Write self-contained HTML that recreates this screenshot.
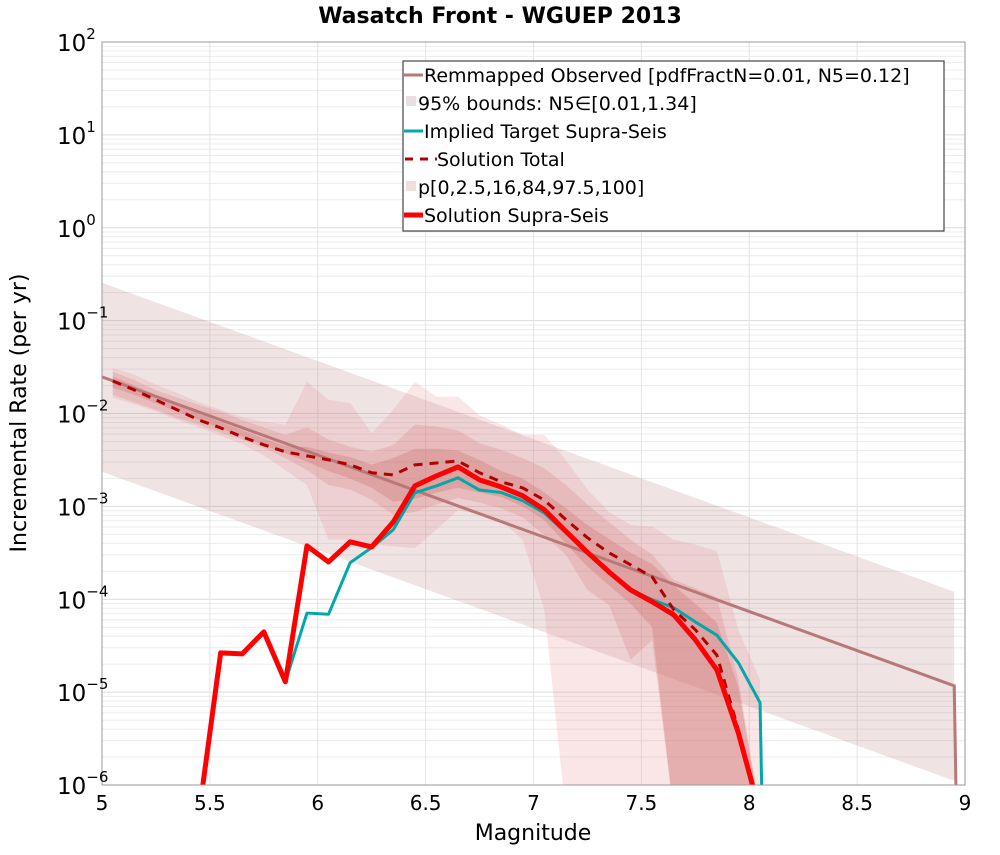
<!DOCTYPE html>
<html><head><meta charset="utf-8"><style>
body{margin:0;background:#fff;width:1000px;height:850px;overflow:hidden}
svg text{font-family:"DejaVu Sans","Liberation Sans",sans-serif}
</style></head><body>
<svg id="chart" width="1000" height="850" xmlns="http://www.w3.org/2000/svg">
<text x="500" y="23" text-anchor="middle" font-size="22" font-weight="bold">Wasatch Front - WGUEP 2013</text>
<g id="grid"></g>
<g id="marks"></g>
<rect x="102" y="42" width="863" height="743" fill="none" stroke="#999" stroke-width="1"/>
<g id="axes"></g>
<text x="533" y="840" text-anchor="middle" font-size="22">Magnitude</text>
<text transform="translate(26,413) rotate(-90)" text-anchor="middle" font-size="22">Incremental Rate (per yr)</text>
<g>
<rect x="403" y="61" width="541" height="170" fill="#fff" stroke="#444" stroke-width="1.2"/>
<g><line x1="404" y1="75" x2="423" y2="75" stroke="#b87878" stroke-width="3"/><text x="424" y="82" font-size="19">Remmapped Observed [pdfFractN=0.01, N5=0.12]</text></g>
<g><rect x="406" y="96" width="10" height="10" fill="#eadfe0"/><text x="418" y="110" font-size="19">95% bounds: N5∈[0.01,1.34]</text></g>
<g><line x1="404" y1="131" x2="423" y2="131" stroke="#00aaaa" stroke-width="3"/><text x="424" y="138" font-size="19">Implied Target Supra-Seis</text></g>
<g><line x1="405" y1="159" x2="437" y2="159" stroke="#b00000" stroke-width="3" stroke-dasharray="8,7"/><text x="437" y="166" font-size="19">Solution Total</text></g>
<g><rect x="406" y="181" width="10" height="10" fill="#f2dcdc"/><text x="418" y="194" font-size="19">p[0,2.5,16,84,97.5,100]</text></g>
<g><line x1="404" y1="215" x2="423" y2="215" stroke="#ff0000" stroke-width="5"/><text x="424" y="222" font-size="19">Solution Supra-Seis</text></g>
</g>
</svg>
<script>
// magnitude bins
const mags = [5.05,5.15,5.25,5.35,5.45,5.55,5.65,5.75,5.85,5.95,6.05,6.15,6.25,6.35,6.45,6.55,6.65,6.75,6.85,6.95,7.05,7.15,7.25,7.35,7.45,7.55,7.65,7.75,7.85,7.95,8.05];
// observed GR line endpoints (magnitude, rate)
const obsMags = [5.0, 8.95];
const obsRates = [0.0248, 1.17e-5];
// 95% bounds multipliers (lower, upper)
const boundFactors = [0.095, 10.3];
// Solution supra-seis rates
const solRates = [1e-8,1e-8,1e-8,1e-8,1e-8,2.65e-5,2.58e-5,4.46e-5,1.29e-5,3.76e-4,2.52e-4,4.15e-4,3.66e-4,6.8e-4,1.66e-3,2.13e-3,2.66e-3,1.93e-3,1.62e-3,1.30e-3,9.2e-4,5.4e-4,3.2e-4,1.97e-4,1.26e-4,9.4e-5,6.8e-5,3.66e-5,1.74e-5,3.6e-6,1e-8];
// Implied target supra-seis rates (null = not drawn)
const targetRates = [null,null,null,null,null,null,null,null,1.29e-5,7.1e-5,6.9e-5,2.47e-4,3.6e-4,5.6e-4,1.40e-3,1.66e-3,2.03e-3,1.5e-3,1.41e-3,1.15e-3,8.5e-4,5.2e-4,3.1e-4,1.95e-4,1.26e-4,9.9e-5,8.1e-5,5.7e-5,4.1e-5,2.07e-5,7.7e-6];
// Solution total rates
const totalRates = [2.24e-2,1.79e-2,1.40e-2,1.09e-2,8.5e-3,7.0e-3,5.6e-3,4.6e-3,3.86e-3,3.5e-3,3.17e-3,2.8e-3,2.3e-3,2.18e-3,2.8e-3,2.93e-3,3.09e-3,2.3e-3,1.84e-3,1.58e-3,1.17e-3,7.2e-4,4.6e-4,3.16e-4,2.35e-4,1.74e-4,7.7e-5,4.7e-5,2.5e-5,3.9e-6,1e-8];
// percentile bands (log10 rate)
const p100Log = [-1.51,-1.58,-1.69,-1.78,-1.88,-1.96,-2.04,-2.09,-2.12,-1.66,-1.85,-1.89,-2.21,-1.96,-1.66,-1.82,-1.82,-2.02,-2.12,-2.23,-2.23,-2.50,-2.82,-3.06,-3.20,-3.22,-3.36,-3.41,-3.48,-4.33,-4.87];
const p0Log = [-1.83,-1.90,-1.98,-2.07,-2.15,-2.24,-2.33,-2.45,-2.61,-2.77,-3.36,-3.36,-3.41,-3.43,-3.45,-3.25,-3.04,-3.09,-3.15,-3.36,-4.11,-8,-8,-8,-8,-8,-8,-8,-8,-8,-8];
const p975Log = [-1.55,-1.64,-1.75,-1.83,-1.91,-1.98,-2.07,-2.15,-2.23,-2.15,-2.28,-2.36,-2.41,-2.34,-2.12,-2.14,-2.18,-2.32,-2.39,-2.48,-2.59,-2.77,-2.98,-3.17,-3.36,-3.52,-3.79,-3.88,-3.98,-4.87,-8];
const p25Log = [-1.80,-1.88,-1.96,-2.05,-2.12,-2.21,-2.28,-2.37,-2.48,-2.61,-2.77,-2.82,-2.93,-3.09,-3.06,-2.98,-2.91,-2.96,-3.02,-3.12,-3.31,-3.52,-3.90,-4.06,-4.65,-4.44,-8,-8,-8,-8,-8];
const p84Log = [-1.60,-1.70,-1.80,-1.90,-2.00,-2.09,-2.18,-2.27,-2.35,-2.36,-2.42,-2.47,-2.55,-2.48,-2.38,-2.38,-2.40,-2.50,-2.62,-2.70,-2.85,-3.02,-3.20,-3.35,-3.50,-3.62,-3.85,-4.05,-4.25,-4.95,-8];
const p16Log = [-1.72,-1.80,-1.89,-1.98,-2.07,-2.16,-2.25,-2.34,-2.43,-2.52,-2.62,-2.70,-2.80,-2.95,-2.92,-2.85,-2.80,-2.85,-2.90,-3.00,-3.15,-3.40,-3.65,-3.85,-4.05,-4.30,-8,-8,-8,-8,-8];
const xTicks = [5,5.5,6,6.5,7,7.5,8,8.5,9];
const xTickLabels = ["5","5.5","6","6.5","7","7.5","8","8.5","9"];
const yExps = [-6,-5,-4,-3,-2,-1,0,1,2];

const X0=102,X1=965,Y0=42,Y1=785;
const xs = m => X0+(m-5)*(X1-X0)/4;
const ysL = l => { l=Math.max(l,-6.3); return Y0+(2-l)*(Y1-Y0)/8; };
const ys = v => ysL(Math.log10(v));
const NS="http://www.w3.org/2000/svg";
function mk(parent,tag,attrs){const e=document.createElementNS(NS,tag);for(const k in attrs)e.setAttribute(k,attrs[k]);parent.appendChild(e);return e;}
const grid=document.getElementById('grid'), marks=document.getElementById('marks'), axes=document.getElementById('axes');
// clip
const defs=mk(document.getElementById('chart'),'defs',{});
const cp=mk(defs,'clipPath',{id:'pc'});mk(cp,'rect',{x:X0,y:Y0,width:X1-X0,height:Y1-Y0});
marks.setAttribute('clip-path','url(#pc)');
// grid
for(let e=-6;e<2;e++){for(let k=1;k<10;k++){const y=ys(k*Math.pow(10,e));
 const gl=mk(grid,'line',{x1:X0,x2:X1,y1:y,y2:y,stroke:k==1?'#dcdcdc':'#ececec','stroke-width':1});
 
 }}
xTicks.forEach((t,i)=>{const x=xs(t);
 const gl=mk(grid,'line',{x1:x,x2:x,y1:Y0,y2:Y1,stroke:'#e4e4e4','stroke-width':1});
 
 
 const tl=mk(axes,'text',{x:x,y:810,'text-anchor':'middle','font-size':20});tl.textContent=xTickLabels[i];
 
 });
yExps.forEach(e=>{const y=ys(Math.pow(10,e));
 const t=mk(axes,'text',{x:57,y:y+9,'font-size':23});
 
 
 const b=mk(t,'tspan',{});b.textContent='10';
 const s=mk(t,'tspan',{dy:-12,'font-size':15});s.textContent=String(e).replace('-','−');});
// 95% bounds band
const bx=[];for(let m=obsMags[0];m<=obsMags[1]+1e-9;m+=0.05)bx.push(m);
const slope=(Math.log10(obsRates[1])-Math.log10(obsRates[0]))/(obsMags[1]-obsMags[0]);
const obsAt=m=>Math.log10(obsRates[0])+slope*(m-obsMags[0]);
let pts=bx.map(m=>xs(m)+','+ysL(obsAt(m)+Math.log10(boundFactors[1])));
pts=pts.concat(bx.slice().reverse().map(m=>xs(m)+','+ysL(obsAt(m)+Math.log10(boundFactors[0]))));
const bb=mk(marks,'polygon',{points:pts.join(' '),fill:'rgba(175,115,120,0.2)'});


// percentile bands
function band(lo,hi,name,fill){
 let p=mags.map((m,i)=>xs(m)+','+ysL(hi[i]));
 p=p.concat(mags.map((m,i)=>xs(m)+','+ysL(lo[i])).reverse());
 const el=mk(marks,'polygon',{points:p.join(' '),fill:fill});
 
 }
band(p0Log,p100Log,'percentile-band-0-100','rgba(230,140,140,0.22)');
band(p25Log,p975Log,'percentile-band-2.5-97.5','rgba(210,110,110,0.22)');
band(p16Log,p84Log,'percentile-band-16-84','rgba(200,90,90,0.25)');
// observed line
const ol=mk(marks,'polyline',{points:[xs(obsMags[0])+','+ys(obsRates[0]),xs(obsMags[1])+','+ys(obsRates[1]),xs(obsMags[1]+0.01)+','+ysL(-8)].join(' '),fill:'none',stroke:'#b87878','stroke-width':3});


function line(vals,name,attrs,endDrop){
 const p=[];mags.forEach((m,i)=>{if(vals[i]!=null)p.push(xs(m)+','+ys(vals[i]));});
 if(endDrop)p.push(xs(endDrop)+','+ysL(-8));
 const a=Object.assign({points:p.join(' '),fill:'none','stroke-linejoin':'round'},attrs);
 const el=mk(marks,'polyline',a);
 
 }
line(targetRates,'target-line',{stroke:'#00a8a8','stroke-width':3},8.06);
line(totalRates,'total-line',{stroke:'#b00000','stroke-width':3,'stroke-dasharray':'9,7'});
line(solRates,'solution-line',{stroke:'#ff0000','stroke-width':5});
</script>
</body></html>
